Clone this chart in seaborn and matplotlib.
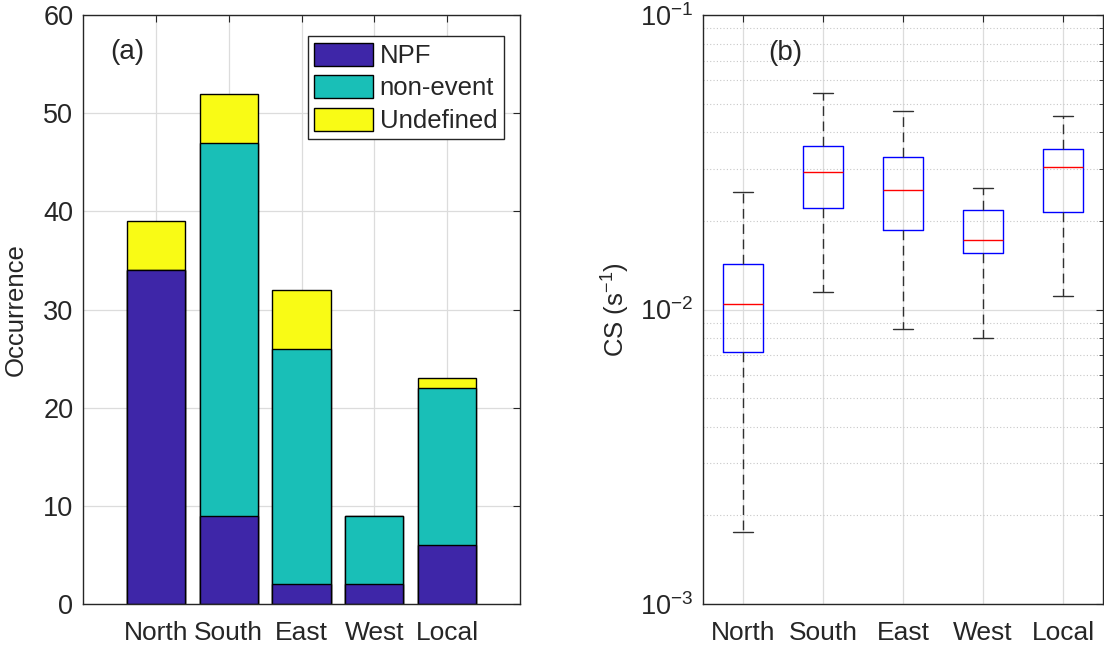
import numpy as np
import pandas as pd
import matplotlib
matplotlib.use("Agg")
import matplotlib.pyplot as plt
from matplotlib.ticker import LogLocator, NullFormatter
import seaborn as sns

# --- data ---
directions = ["North", "South", "East", "West", "Local"]
npf = [34, 9, 2, 2, 6]
non_event = [0, 38, 24, 7, 16]
undefined = [5, 5, 6, 0, 1]

# five-number summaries of CS (s^-1) per direction
cs_low = [0.00175, 0.0115, 0.00856, 0.0080, 0.0111]
cs_q1 = [0.00715, 0.0221, 0.0186, 0.0155, 0.0214]
cs_med = [0.0104, 0.0294, 0.0254, 0.0172, 0.0305]
cs_q3 = [0.0143, 0.0359, 0.0329, 0.0217, 0.0351]
cs_high = [0.0250, 0.0543, 0.0471, 0.0259, 0.0454]

sns.set_style("white")
plt.rcParams["font.family"] = ["Liberation Sans", "DejaVu Sans"]
plt.rcParams["mathtext.default"] = "regular"
dark = "#262626"
plt.rcParams.update({
    "font.size": 19,
    "text.color": dark,
    "axes.labelcolor": dark,
    "axes.edgecolor": dark,
    "xtick.color": dark,
    "ytick.color": dark,
    "xtick.direction": "in",
    "ytick.direction": "in",
    "xtick.top": True,
    "ytick.right": True,
    "xtick.major.size": 5,
    "ytick.major.size": 5,
    "xtick.labelsize": 19,
    "ytick.labelsize": 19.5,
})

col_npf = "#3E26A8"
col_non = "#19BFB7"
col_und = "#F9FB15"
gridc = "#dcdcdc"

fig = plt.figure(figsize=(11.04, 6.45), dpi=100)
ax1 = fig.add_axes([83 / 1104, 41 / 645, 437 / 1104, 589 / 645])
ax2 = fig.add_axes([703 / 1104, 41 / 645, 400 / 1104, 589 / 645])

# ---------- (a) stacked bars ----------
bars = pd.DataFrame({"direction": directions,
                     "NPF": npf, "non-event": non_event, "Undefined": undefined})
bars["top_non"] = bars["NPF"] + bars["non-event"]
bars["top_und"] = bars["top_non"] + bars["Undefined"]

common = dict(x="direction", width=0.8, edgecolor="black", linewidth=1, ax=ax1, zorder=3)
sns.barplot(data=bars, y="top_und", color=col_und, saturation=1, label="Undefined", **common)
sns.barplot(data=bars, y="top_non", color=col_non, saturation=1, label="non-event", **common)
sns.barplot(data=bars, y="NPF", color=col_npf, saturation=1, label="NPF", **common)

ax1.set_xlim(-1, 5)
ax1.set_ylim(0, 60)
ax1.set_yticks(np.arange(0, 61, 10))
ax1.set_xlabel("")
ax1.set_ylabel("Occurrence", fontsize=18.5, labelpad=11)
ax1.grid(True, color=gridc, linewidth=0.9, zorder=0)
ax1.set_axisbelow(True)
ax1.tick_params(axis="x", pad=12)
ax1.tick_params(axis="y", pad=7)
for s in ax1.spines.values():
    s.set_linewidth(1)
    s.set_zorder(5)
ax1.text(0.062, 0.937, "(a)", transform=ax1.transAxes, fontsize=20,
         ha="left", va="center")

h, l = ax1.get_legend_handles_labels()
leg = ax1.legend(h[::-1], l[::-1], loc="upper right",
                 bbox_to_anchor=(0.963, 0.964), borderaxespad=0,
                 fancybox=False, framealpha=1, edgecolor=dark,
                 handlelength=2.3, handleheight=1.0, handletextpad=0.25,
                 labelspacing=0.28, borderpad=0.25, fontsize=18.5)
leg.get_frame().set_linewidth(1)
leg.set_zorder(10)

# ---------- (b) box plot ----------
rows = []
for i, d in enumerate(directions):
    for v in (cs_low[i], cs_q1[i], cs_med[i], cs_q3[i], cs_high[i]):
        rows.append({"direction": d, "CS": v})
cs = pd.DataFrame(rows)

sns.boxplot(data=cs, x="direction", y="CS", ax=ax2, fill=False, width=0.5,
            whis=(0, 100), log_scale=True, showfliers=False,
            boxprops={"color": "blue", "linewidth": 1},
            medianprops={"color": "red", "linewidth": 1},
            whiskerprops={"color": "#303030", "linewidth": 1, "linestyle": (0, (7, 4))},
            capprops={"color": "#303030", "linewidth": 1})

ax2.set_xlim(-0.5, 4.5)
ax2.set_ylim(1e-3, 1e-1)
ax2.yaxis.set_major_locator(LogLocator(base=10, numticks=10))
ax2.yaxis.set_minor_locator(LogLocator(base=10, subs=np.arange(2, 10), numticks=20))
ax2.yaxis.set_minor_formatter(NullFormatter())
ax2.tick_params(axis="y", which="minor", length=3, direction="in", right=True)
ax2.set_xlabel("")
ax2.set_ylabel("CS (s$^{-1}$)", fontsize=18.5, labelpad=6)
ax2.grid(True, which="major", color=gridc, linewidth=0.9)
ax2.grid(True, which="minor", axis="y", color="#c8c8c8", linewidth=0.8,
         linestyle=(0, (1, 2)))
ax2.set_axisbelow(True)
ax2.tick_params(axis="x", pad=12)
ax2.tick_params(axis="y", pad=7)
for s in ax2.spines.values():
    s.set_linewidth(1)
ax2.text(0.1625, 0.935, "(b)", transform=ax2.transAxes, fontsize=20,
         ha="left", va="center")

fig.savefig("out.png", dpi=100)
